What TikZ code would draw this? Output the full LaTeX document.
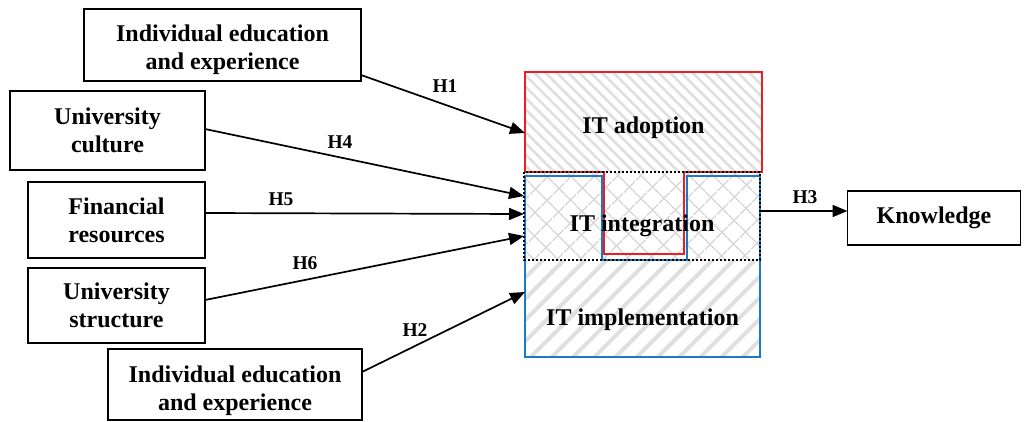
\documentclass[tikz,border=0pt]{standalone}
\usepackage{fontspec}
\setmainfont{Liberation Serif}
\usetikzlibrary{arrows.meta,patterns.meta}
\definecolor{myred}{RGB}{235,30,35}
\definecolor{myblue}{RGB}{30,120,200}
\begin{document}
\begin{tikzpicture}[x=1pt,y=-1pt,
  every node/.style={font=\fontsize{24}{28}\selectfont\bfseries, align=center, outer sep=0pt, inner sep=0pt},
  box/.style={draw=black, line width=1.4pt},
  hlabel/.style={font=\fontsize{19.5}{22}\selectfont\bfseries},
  conn/.style={line width=1.7pt, -{Triangle[length=15pt,width=12pt]}},
]
\useasboundingbox (0,0) rectangle (1024,421);

% input boxes
\node[box, minimum width=277pt, minimum height=72pt] (ind1) at (222.5,45) {};
\node (ind1t) at (222.5,50) {Individual education\\and experience};
\node[box, minimum width=195pt, minimum height=79pt] (cult) at (107.5,130.5) {University\\culture};
\node[box, minimum width=177pt, minimum height=76pt] (fin) at (116.5,220) {Financial\\resources};
\node[box, minimum width=177pt, minimum height=75pt] (struct) at (116.5,305.5) {University\\structure};
\node[box, minimum width=254pt, minimum height=71pt] (ind2) at (235,384.5) {};
\node (ind2t) at (235,391) {Individual education\\and experience};
\node[box, minimum width=173pt, minimum height=54pt] (know) at (934,218) {Knowledge};

% fills of the central block
\fill[pattern={Lines[angle=-45,distance=8pt,line width=2.6pt]}, pattern color=gray!25] (525,72) rectangle (762,172);
\fill[white] (524,172) rectangle (760,260);
\fill[pattern={Hatch[angle=45,distance=17pt,line width=1.6pt]}, pattern color=gray!30] (524,172) rectangle (760,260);
\fill[pattern={Lines[angle=45,distance=15pt,line width=4pt]}, pattern color=gray!25] (525,260) rectangle (760,357);

% outlines
\draw[myblue, line width=1.8pt] (525,176) -- (602,176) -- (602,260) -- (687,260) -- (687,176) -- (760,176) -- (760,357) -- (525,357) -- cycle;
\draw[myred, line width=1.8pt] (525,72) -- (762,72) -- (762,172) -- (684,172) -- (684,254) -- (604,254) -- (604,172) -- (525,172) -- cycle;
\draw[black, line width=1.8pt, dash pattern=on 2pt off 2pt] (524,172) rectangle (760,260);

% central text nodes
\node[minimum width=237pt, minimum height=98pt] (adopt) at (643.5,128) {IT adoption};
\node[minimum width=236pt, minimum height=88pt] (integ) at (642,226) {IT integration};
\node[minimum width=235pt, minimum height=97pt] (impl) at (642.5,319.5) {IT implementation};

% connectors
\draw[conn] ([yshift=-30pt]ind1.east) -- ([yshift=-5pt]adopt.west);
\draw[conn] ([yshift=1.5pt]cult.east) -- ([yshift=30pt]integ.west);
\draw[conn] ([yshift=7pt]fin.east) -- ([yshift=12pt]integ.west);
\draw[conn] ([yshift=5.5pt]struct.east) -- ([yshift=-10pt]integ.west);
\draw[conn] ([yshift=12.5pt]ind2.east) -- ([yshift=27.5pt]impl.west);
\draw[conn] ([yshift=15pt]integ.east) -- ([yshift=7pt]know.west);

% labels
\node[hlabel] (h1) at (445,86) {H1};
\node[hlabel] (h4) at (340,142) {H4};
\node[hlabel] (h5) at (281,199) {H5};
\node[hlabel] (h6) at (305,263) {H6};
\node[hlabel] (h2) at (415,330) {H2};
\node[hlabel] (h3) at (805,197) {H3};
\end{tikzpicture}
\end{document}
